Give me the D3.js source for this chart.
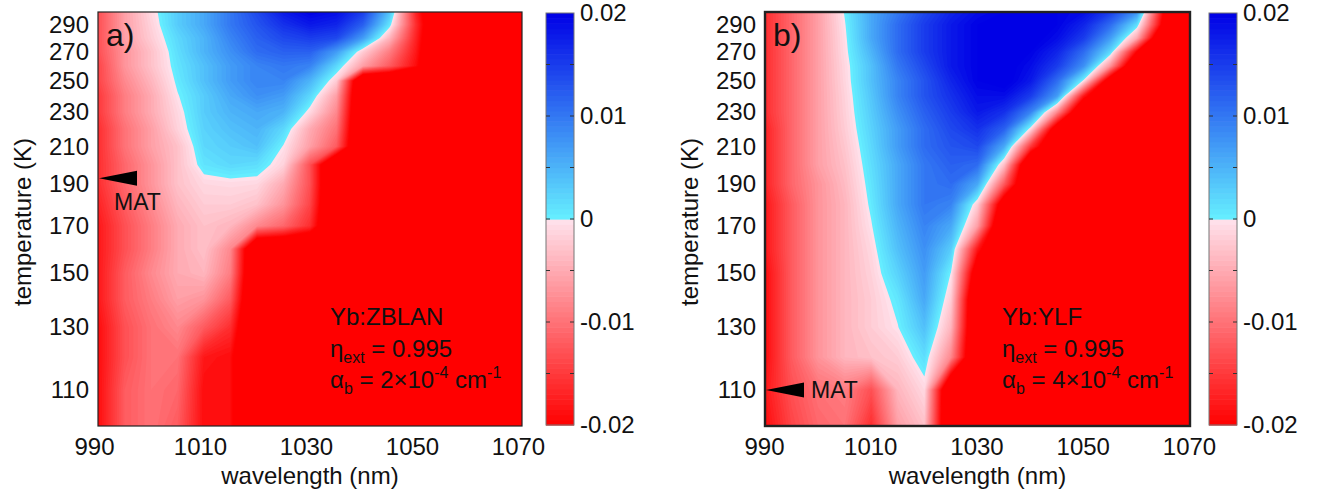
<!DOCTYPE html>
<html>
<head>
<meta charset="utf-8">
<script src="https://cdn.jsdelivr.net/npm/d3@7"></script>
<style>
    body { margin: 0; background: #fff; }
    svg { display: block; }
</style>
</head>
<body>
<svg id="chart" width="1327" height="498"></svg>
<script>
// grid axes (columns = wavelength in nm, rows = temperature in K, top row first)
const wavelengths = [990, 995, 1000, 1005, 1010, 1015, 1020, 1025, 1030, 1035, 1040, 1045, 1050, 1055, 1060, 1065, 1070];
const temperatures = [300, 290, 280, 270, 260, 250, 240, 230, 220, 210, 200, 190, 180, 170, 160, 150, 140, 130, 120, 110, 100];

const xTicks = [990, 1010, 1030, 1050, 1070];
const yTicks = [110, 130, 150, 170, 190, 210, 230, 250, 270, 290];
const colorTicks = [-0.02, -0.01, 0, 0.01, 0.02];
const colorMinorTicks = [-0.015, -0.01, -0.005, 0, 0.005, 0.01, 0.015];

// cooling efficiency (Yb:ZBLAN)
const zblanEfficiency = [
    [-0.013, -0.006, -0.001, 0.003, 0.006, 0.010, 0.014, 0.018, 0.020, 0.019, 0.015, 0.004, -0.017, -0.03, -0.03, -0.03, -0.03],
    [-0.013, -0.006, -0.0015, 0.003, 0.006, 0.010, 0.013, 0.016, 0.018, 0.017, 0.012, 0.001, -0.016, -0.03, -0.03, -0.03, -0.03],
    [-0.013, -0.006, -0.002, 0.002, 0.005, 0.009, 0.012, 0.014, 0.015, 0.014, 0.007, -0.004, -0.017, -0.03, -0.03, -0.03, -0.03],
    [-0.013, -0.007, -0.003, 0.0015, 0.005, 0.008, 0.011, 0.012, 0.012, 0.007, -0.002, -0.009, -0.018, -0.03, -0.03, -0.03, -0.03],
    [-0.014, -0.007, -0.003, 0.001, 0.004, 0.007, 0.009, 0.010, 0.009, 0.002, -0.006, -0.012, -0.019, -0.03, -0.03, -0.03, -0.03],
    [-0.014, -0.008, -0.004, 0.0005, 0.004, 0.007, 0.009, 0.009, 0.005, -0.002, -0.03, -0.03, -0.03, -0.03, -0.03, -0.03, -0.03],
    [-0.015, -0.009, -0.005, -0.0002, 0.003, 0.006, 0.008, 0.007, 0.002, -0.006, -0.03, -0.03, -0.03, -0.03, -0.03, -0.03, -0.03],
    [-0.015, -0.009, -0.005, -0.001, 0.003, 0.005, 0.006, 0.005, -0.001, -0.008, -0.03, -0.03, -0.03, -0.03, -0.03, -0.03, -0.03],
    [-0.016, -0.010, -0.006, -0.0015, 0.0025, 0.004, 0.005, 0.002, -0.005, -0.010, -0.03, -0.03, -0.03, -0.03, -0.03, -0.03, -0.03],
    [-0.016, -0.010, -0.006, -0.003, 0.002, 0.003, 0.004, -0.0002, -0.006, -0.012, -0.03, -0.03, -0.03, -0.03, -0.03, -0.03, -0.03],
    [-0.016, -0.011, -0.007, -0.003, 0.001, 0.002, 0.0015, -0.0015, -0.013, -0.03, -0.03, -0.03, -0.03, -0.03, -0.03, -0.03, -0.03],
    [-0.016, -0.011, -0.007, -0.003, -0.001, -0.0008, -0.001, -0.005, -0.013, -0.03, -0.03, -0.03, -0.03, -0.03, -0.03, -0.03, -0.03],
    [-0.017, -0.012, -0.008, -0.004, -0.002, -0.002, -0.003, -0.007, -0.014, -0.03, -0.03, -0.03, -0.03, -0.03, -0.03, -0.03, -0.03],
    [-0.018, -0.013, -0.009, -0.005, -0.003, -0.004, -0.008, -0.011, -0.016, -0.03, -0.03, -0.03, -0.03, -0.03, -0.03, -0.03, -0.03],
    [-0.018, -0.013, -0.009, -0.005, -0.003, -0.008, -0.03, -0.03, -0.03, -0.03, -0.03, -0.03, -0.03, -0.03, -0.03, -0.03, -0.03],
    [-0.018, -0.012, -0.008, -0.005, -0.004, -0.009, -0.03, -0.03, -0.03, -0.03, -0.03, -0.03, -0.03, -0.03, -0.03, -0.03, -0.03],
    [-0.018, -0.012, -0.009, -0.006, -0.007, -0.012, -0.03, -0.03, -0.03, -0.03, -0.03, -0.03, -0.03, -0.03, -0.03, -0.03, -0.03],
    [-0.019, -0.013, -0.010, -0.008, -0.012, -0.016, -0.03, -0.03, -0.03, -0.03, -0.03, -0.03, -0.03, -0.03, -0.03, -0.03, -0.03],
    [-0.019, -0.013, -0.010, -0.010, -0.018, -0.019, -0.03, -0.03, -0.03, -0.03, -0.03, -0.03, -0.03, -0.03, -0.03, -0.03, -0.03],
    [-0.019, -0.012, -0.010, -0.011, -0.019, -0.019, -0.03, -0.03, -0.03, -0.03, -0.03, -0.03, -0.03, -0.03, -0.03, -0.03, -0.03],
    [-0.019, -0.012, -0.010, -0.012, -0.019, -0.019, -0.03, -0.03, -0.03, -0.03, -0.03, -0.03, -0.03, -0.03, -0.03, -0.03, -0.03]
];

// cooling efficiency (Yb:YLF)
const ylfEfficiency = [
    [-0.016, -0.011, -0.006, 0.0002, 0.006, 0.010, 0.014, 0.017, 0.019, 0.020, 0.020, 0.020, 0.019, 0.015, 0.008, -0.020, -0.03],
    [-0.016, -0.011, -0.006, -0.0002, 0.006, 0.011, 0.015, 0.018, 0.020, 0.021, 0.021, 0.020, 0.017, 0.011, 0.0015, -0.022, -0.03],
    [-0.016, -0.011, -0.006, -0.0005, 0.006, 0.011, 0.015, 0.018, 0.020, 0.021, 0.021, 0.019, 0.015, 0.007, -0.005, -0.03, -0.03],
    [-0.016, -0.011, -0.006, -0.0007, 0.005, 0.011, 0.015, 0.018, 0.020, 0.021, 0.020, 0.017, 0.011, 0.002, -0.020, -0.03, -0.03],
    [-0.016, -0.011, -0.006, -0.001, 0.004, 0.010, 0.014, 0.018, 0.020, 0.021, 0.019, 0.015, 0.008, -0.007, -0.03, -0.03, -0.03],
    [-0.016, -0.011, -0.006, -0.0012, 0.004, 0.009, 0.013, 0.017, 0.020, 0.021, 0.018, 0.011, -0.0005, -0.025, -0.03, -0.03, -0.03],
    [-0.016, -0.011, -0.006, -0.0015, 0.0035, 0.009, 0.013, 0.016, 0.019, 0.019, 0.015, 0.007, -0.018, -0.03, -0.03, -0.03, -0.03],
    [-0.016, -0.011, -0.006, -0.0017, 0.003, 0.008, 0.012, 0.015, 0.018, 0.016, 0.009, -0.008, -0.03, -0.03, -0.03, -0.03, -0.03],
    [-0.017, -0.011, -0.006, -0.002, 0.0025, 0.007, 0.011, 0.014, 0.016, 0.012, -0.001, -0.025, -0.03, -0.03, -0.03, -0.03, -0.03],
    [-0.017, -0.011, -0.006, -0.0025, 0.002, 0.007, 0.011, 0.013, 0.014, 0.006, -0.015, -0.03, -0.03, -0.03, -0.03, -0.03, -0.03],
    [-0.017, -0.011, -0.006, -0.003, 0.0015, 0.006, 0.010, 0.012, 0.011, -0.003, -0.03, -0.03, -0.03, -0.03, -0.03, -0.03, -0.03],
    [-0.017, -0.011, -0.007, -0.0035, 0.001, 0.006, 0.010, 0.011, 0.006, -0.012, -0.03, -0.03, -0.03, -0.03, -0.03, -0.03, -0.03],
    [-0.018, -0.012, -0.007, -0.004, 0.0005, 0.006, 0.010, 0.009, -0.002, -0.025, -0.03, -0.03, -0.03, -0.03, -0.03, -0.03, -0.03],
    [-0.018, -0.012, -0.007, -0.004, -0.0002, 0.005, 0.009, 0.006, -0.006, -0.03, -0.03, -0.03, -0.03, -0.03, -0.03, -0.03, -0.03],
    [-0.018, -0.012, -0.007, -0.004, -0.001, 0.004, 0.008, 0.003, -0.018, -0.03, -0.03, -0.03, -0.03, -0.03, -0.03, -0.03, -0.03],
    [-0.019, -0.012, -0.007, -0.004, -0.0015, 0.0025, 0.007, -0.0001, -0.025, -0.03, -0.03, -0.03, -0.03, -0.03, -0.03, -0.03, -0.03],
    [-0.019, -0.012, -0.007, -0.004, -0.002, 0.0008, 0.006, -0.002, -0.03, -0.03, -0.03, -0.03, -0.03, -0.03, -0.03, -0.03, -0.03],
    [-0.019, -0.012, -0.007, -0.004, -0.002, -0.0001, 0.004, -0.004, -0.03, -0.03, -0.03, -0.03, -0.03, -0.03, -0.03, -0.03, -0.03],
    [-0.019, -0.012, -0.007, -0.004, -0.003, -0.002, 0.0015, -0.008, -0.03, -0.03, -0.03, -0.03, -0.03, -0.03, -0.03, -0.03, -0.03],
    [-0.018, -0.013, -0.010, -0.009, -0.013, -0.004, -0.001, -0.03, -0.03, -0.03, -0.03, -0.03, -0.03, -0.03, -0.03, -0.03, -0.03],
    [-0.019, -0.014, -0.011, -0.010, -0.016, -0.006, -0.003, -0.03, -0.03, -0.03, -0.03, -0.03, -0.03, -0.03, -0.03, -0.03, -0.03]
];

const FONT = "'Liberation Sans', Arial, sans-serif";
const plotTop = 12,
        plotBottom = 426,
        barWidth = 28;

const panels = [
    {label: 'a)', values: zblanEfficiency, left: 98, right: 522, barX: 546, border: 1.2,
        material: 'Yb:ZBLAN', alphaB: '2', noteX: 330, mat: 193, matSide: 'below', xShift: -4},
    {label: 'b)', values: ylfEfficiency, left: 765, right: 1190, barX: 1209, border: 2.4,
        material: 'Yb:YLF', alphaB: '4', noteX: 1002, mat: 110, matSide: 'right', xShift: -1}
];

// two-sided colour map: pink -> red below zero, cyan -> blue above
const negColor = d3.scaleLinear().domain([-0.02, 0]).range(['#ff0000', '#ffe3ed']).clamp(true);
const posColor = d3.scaleLinear().domain([0, 0.02]).range(['#66f0ff', '#0000e6']).clamp(true);
const colorOf = v => v < 0 ? negColor(v) : posColor(v);

const step = 0.0005;
const thresholds = d3.range(-41, 43).map(i => i * step);

const svg = d3.select('#chart');

// contour grid coordinate -> data value (sample i sits at i + 0.5)
const gridToData = (gc, samples) => {
    const s = Math.max(0, Math.min(samples.length - 1, gc - 0.5));
    const i = Math.min(Math.floor(s), samples.length - 2);
    return samples[i] + (s - i) * (samples[i + 1] - samples[i]);
};

const styleText = sel => sel.attr('font-family', FONT).attr('font-size', 24).attr('fill', '#111');

const drawPanel = (p, idx) => {
    const g = svg.append('g');

    const x = d3.scaleLinear().domain([990, 1070]).range([p.left, p.right]);
    const y = d3.scaleLog().domain([100, 300]).range([plotBottom, plotTop]);

    const toScreen = d3.geoTransform({
        point: function(gx, gy) {
            this.stream.point(x(gridToData(gx, wavelengths)), y(gridToData(gy, temperatures)));
        }
    });
    const path = d3.geoPath(toScreen);

    const contours = d3.contours()
            .size([wavelengths.length, temperatures.length])
            .thresholds(thresholds)(p.values.flat());

    const clipId = 'clip' + idx;
    g.append('clipPath').attr('id', clipId)
            .append('rect')
            .attr('x', p.left).attr('y', plotTop)
            .attr('width', p.right - p.left).attr('height', plotBottom - plotTop);

    const map = g.append('g').attr('clip-path', `url(#${clipId})`);
    map.append('rect')
            .attr('x', p.left).attr('y', plotTop)
            .attr('width', p.right - p.left).attr('height', plotBottom - plotTop)
            .attr('fill', colorOf(-0.03));
    map.selectAll('path')
            .data(contours)
            .enter().append('path')
            .attr('d', path)
            .attr('fill', d => colorOf(d.value + step / 2));

    g.append('rect')
            .attr('x', p.left).attr('y', plotTop)
            .attr('width', p.right - p.left).attr('height', plotBottom - plotTop)
            .attr('fill', 'none')
            .attr('stroke', '#222')
            .attr('stroke-width', p.border);

    // axes: labels only, the frame is the box above
    const xAxis = g.append('g')
            .attr('transform', `translate(0,${plotBottom})`)
            .call(d3.axisBottom(x).tickValues(xTicks).tickSize(0).tickPadding(12).tickFormat(d3.format('d')));
    xAxis.select('.domain').remove();
    xAxis.selectAll('text').call(styleText).attr('dx', p.xShift);

    const yAxis = g.append('g')
            .attr('transform', `translate(${p.left},0)`)
            .call(d3.axisLeft(y).tickValues(yTicks).tickSize(0).tickPadding(9).tickFormat(d3.format('d')));
    yAxis.select('.domain').remove();
    yAxis.selectAll('text').call(styleText);

    g.append('text').call(styleText)
            .attr('x', (p.left + p.right) / 2).attr('y', 484)
            .attr('text-anchor', 'middle')
            .text('wavelength (nm)');
    g.append('text').call(styleText)
            .attr('transform', `translate(${p.left - 75},${(plotTop + plotBottom) / 2 + 3}) rotate(-90)`)
            .attr('text-anchor', 'middle')
            .attr('dy', '0.35em')
            .text('temperature (K)');

    g.append('text').call(styleText)
            .attr('font-size', 32)
            .attr('x', p.left + 8).attr('y', 46)
            .text(p.label);

    // MAT marker
    const tipX = p.left + 1,
            tipY = y(p.mat);
    g.append('path')
            .attr('d', d3.line()([[tipX, tipY], [tipX + 38, tipY - 7.5], [tipX + 38, tipY + 7.5]]) + 'Z')
            .attr('fill', '#000');
    g.append('text').call(styleText)
            .attr('font-size', 23)
            .attr('x', p.matSide === 'below' ? tipX + 15 : tipX + 45)
            .attr('y', p.matSide === 'below' ? tipY + 32 : tipY + 8)
            .text('MAT');

    // material notes
    g.append('text').call(styleText)
            .attr('x', p.noteX).attr('y', 325)
            .text(p.material);
    const eta = g.append('text').call(styleText)
            .attr('x', p.noteX).attr('y', 357);
    eta.append('tspan').text('η');
    eta.append('tspan').attr('font-size', 16).attr('dy', 6).text('ext');
    eta.append('tspan').attr('dy', -6).text(' = 0.995');
    const alpha = g.append('text').call(styleText)
            .attr('x', p.noteX).attr('y', 388);
    alpha.append('tspan').text('α');
    alpha.append('tspan').attr('font-size', 16).attr('dy', 6).text('b');
    alpha.append('tspan').attr('dy', -6).text(` = ${p.alphaB}×10`);
    alpha.append('tspan').attr('font-size', 16).attr('dy', -10).text('-4');
    alpha.append('tspan').attr('dy', 10).text(' cm');
    alpha.append('tspan').attr('font-size', 16).attr('dy', -10).text('-1');

    // colour bar
    const c = d3.scaleLinear().domain([-0.02, 0.02]).range([plotBottom - 1, plotTop + 1]);
    const bands = thresholds.filter(t => t >= -0.02 && t < 0.02);
    g.append('g')
            .selectAll('rect')
            .data(bands)
            .enter().append('rect')
            .attr('x', p.barX)
            .attr('y', d => c(d + step))
            .attr('width', barWidth)
            .attr('height', d => c(d) - c(d + step) + 0.6)
            .attr('fill', d => colorOf(d + step / 2));
    g.append('rect')
            .attr('x', p.barX).attr('y', c(0.02))
            .attr('width', barWidth).attr('height', c(-0.02) - c(0.02))
            .attr('fill', 'none')
            .attr('stroke', '#777')
            .attr('stroke-width', 1);
    g.append('g')
            .selectAll('path')
            .data(colorMinorTicks)
            .enter().append('path')
            .attr('d', d => `M${p.barX},${c(d)}h4M${p.barX + barWidth - 4},${c(d)}h4`)
            .attr('stroke', '#333')
            .attr('stroke-width', 1);
    const cAxis = g.append('g')
            .attr('transform', `translate(${p.barX + barWidth},0)`)
            .call(d3.axisRight(c).tickValues(colorTicks).tickSize(0).tickPadding(6)
                    .tickFormat(d => d === 0 ? '0' : d.toFixed(2)));
    cAxis.select('.domain').remove();
    cAxis.selectAll('text').call(styleText);
};

panels.forEach(drawPanel);
</script>
</body>
</html>
